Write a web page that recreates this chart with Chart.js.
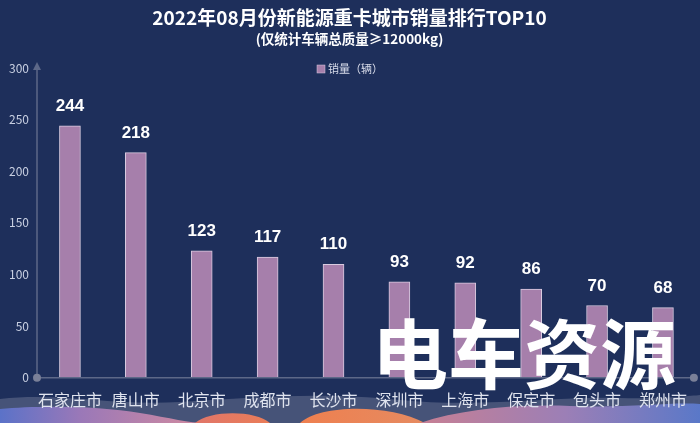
<!DOCTYPE html>
<html>
<head>
<meta charset="utf-8">
<script src="https://cdn.jsdelivr.net/npm/chart.js@4/dist/chart.umd.min.js"></script>
<style>
  html, body { margin: 0; padding: 0; background: #1e2f5b; }
  #wrap { width: 700px; height: 423px; position: relative; }
</style>
</head>
<body>
<div id="wrap"><canvas id="barChart"></canvas></div>
<script>
// datos del grafico
var ciudades = ["石家庄市", "唐山市", "北京市", "成都市", "长沙市", "深圳市", "上海市", "保定市", "包头市", "郑州市"];
var ventas = [244, 218, 123, 117, 110, 93, 92, 86, 70, 68];
var ticksY = [0, 50, 100, 150, 200, 250, 300];

var FONT = "'Noto Sans CJK SC', 'Noto Sans', sans-serif";

/*==========================================================
FONDO Y ONDAS INFERIORES
==========================================================*/
var fondoPlugin = {
  id: "fondo",
  beforeDraw: function (chart) {
    var ctx = chart.ctx, w = chart.width, h = chart.height;
    ctx.save();
    ctx.fillStyle = "#1e2f5b";
    ctx.fillRect(0, 0, w, h);

    // banda gris azulada
    ctx.fillStyle = "rgba(110,120,150,0.5)";
    ctx.beginPath();
    ctx.moveTo(0, 399);
    ctx.bezierCurveTo(60, 392, 110, 406, 180, 402);
    ctx.bezierCurveTo(260, 397, 320, 392, 400, 400);
    ctx.bezierCurveTo(480, 408, 560, 396, 620, 398);
    ctx.bezierCurveTo(660, 399, 690, 396, 700, 395);
    ctx.lineTo(700, h); ctx.lineTo(0, h); ctx.closePath();
    ctx.fill();

    // izquierda azul-violeta-rosa
    var g1 = ctx.createLinearGradient(0, 0, 200, 0);
    g1.addColorStop(0, "#5b72c8");
    g1.addColorStop(0.4, "#9a78b8");
    g1.addColorStop(1, "#d08aa0");
    ctx.fillStyle = g1;
    ctx.beginPath();
    ctx.moveTo(0, 409);
    ctx.bezierCurveTo(40, 405, 100, 406, 140, 413);
    ctx.bezierCurveTo(170, 418, 190, 423, 205, 423);
    ctx.lineTo(0, h); ctx.closePath();
    ctx.fill();

    // montes naranjas
    var g2 = ctx.createLinearGradient(190, 0, 420, 0);
    g2.addColorStop(0, "#e0756a");
    g2.addColorStop(0.5, "#ee8050");
    g2.addColorStop(1, "#e68a60");
    ctx.fillStyle = g2;
    ctx.beginPath();
    ctx.moveTo(195, h);
    ctx.bezierCurveTo(210, 410, 255, 410, 270, h);
    ctx.closePath();
    ctx.fill();
    ctx.beginPath();
    ctx.moveTo(300, h);
    ctx.bezierCurveTo(320, 404, 390, 404, 425, h);
    ctx.closePath();
    ctx.fill();

    // derecha rosa-violeta-azul
    var g3 = ctx.createLinearGradient(430, 0, 700, 0);
    g3.addColorStop(0, "#c47f96");
    g3.addColorStop(0.5, "#9c7fb6");
    g3.addColorStop(1, "#5a78c8");
    ctx.fillStyle = g3;
    ctx.beginPath();
    ctx.moveTo(420, h);
    ctx.bezierCurveTo(460, 410, 510, 404, 570, 406);
    ctx.bezierCurveTo(630, 408, 670, 402, 700, 404);
    ctx.lineTo(700, h); ctx.lineTo(0, h); ctx.closePath();
    ctx.fill();
    ctx.restore();
  },
};

/*==========================================================
EJES CON FLECHA Y PUNTOS, LEYENDA, ETIQUETAS Y MARCA DE AGUA
==========================================================*/
var extrasPlugin = {
  id: "extras",
  afterDatasetsDraw: function (chart) {
    var ctx = chart.ctx;
    var area = chart.chartArea;
    var y = chart.scales.y;
    var y0 = y.getPixelForValue(0);
    var yTop = y.getPixelForValue(300);
    ctx.save();
    ctx.strokeStyle = "#5d6888";
    ctx.lineWidth = 1.5;
    ctx.beginPath();
    ctx.moveTo(area.left, y0);
    ctx.lineTo(area.left, yTop - 2);
    ctx.moveTo(area.left, y0);
    ctx.lineTo(area.right - 2, y0);
    ctx.stroke();
    // flecha
    ctx.fillStyle = "#5d6888";
    ctx.beginPath();
    ctx.moveTo(area.left, yTop - 6);
    ctx.lineTo(area.left - 4, yTop + 2);
    ctx.lineTo(area.left + 4, yTop + 2);
    ctx.closePath();
    ctx.fill();
    // puntos
    ctx.fillStyle = "#7a8098";
    ctx.beginPath();
    ctx.arc(area.left, y0, 4, 0, Math.PI * 2);
    ctx.fill();
    ctx.beginPath();
    ctx.arc(area.right - 2, y0, 4, 0, Math.PI * 2);
    ctx.fill();

    // leyenda (dentro del area, a la altura del 300)
    var ds = chart.data.datasets[0];
    ctx.font = "11px " + FONT;
    var tw = ctx.measureText(ds.label).width;
    var lx = chart.width / 2 - (tw + 11) / 2;
    var ly = 69;
    ctx.fillStyle = ds.backgroundColor;
    ctx.fillRect(lx, ly - 4, 8, 8);
    ctx.strokeStyle = ds.borderColor;
    ctx.lineWidth = 0.5;
    ctx.strokeRect(lx, ly - 4, 8, 8);
    ctx.fillStyle = "#d8dcea";
    ctx.textAlign = "left";
    ctx.textBaseline = "middle";
    ctx.fillText(ds.label, lx + 11, ly);

    // valores sobre las barras
    var meta = chart.getDatasetMeta(0);
    ctx.fillStyle = "#ffffff";
    ctx.font = "bold 17px 'Liberation Sans', Arial, sans-serif";
    ctx.textAlign = "center";
    ctx.textBaseline = "bottom";
    meta.data.forEach(function (bar, i) {
      ctx.fillText(ventas[i], bar.x, bar.y - 11);
    });

    // marca de agua
    ctx.font = "bold 76px " + FONT;
    ctx.textAlign = "left";
    ctx.textBaseline = "alphabetic";
    ctx.fillStyle = "#ffffff";
    ctx.fillText("电车资源", 372, 383);
    ctx.restore();
  },
};

var ctxB = document.getElementById("barChart").getContext("2d");
new Chart(ctxB, {
  type: "bar",
  data: {
    labels: ciudades,
    datasets: [
      {
        label: "销量（辆）",
        data: ventas,
        backgroundColor: "#a67fab",
        borderColor: "#d9cbe0",
        borderWidth: 1,
        barThickness: 21,
      },
    ],
  },
  options: {
    responsive: true,
    maintainAspectRatio: false,
    animation: false,
    layout: { padding: { left: 0, right: 1, top: 0, bottom: 0 } },
    plugins: {
      title: {
        display: true,
        text: "2022年08月份新能源重卡城市销量排行TOP10",
        color: "#ffffff",
        font: { family: FONT, size: 19, weight: "bold" },
        padding: { top: 6, bottom: 0 },
      },
      subtitle: {
        display: true,
        text: "(仅统计车辆总质量≥12000kg)",
        color: "#ffffff",
        font: { family: FONT, size: 13.5, weight: "bold" },
        padding: { top: 2, bottom: 21 },
      },
      legend: { display: false },
      tooltip: { enabled: false },
    },
    scales: {
      x: {
        grid: { display: false, drawTicks: false },
        border: { display: false },
        ticks: {
          color: "#dfe3ee",
          font: { family: FONT, size: 16 },
          padding: 13,
          maxRotation: 0,
          autoSkip: false,
        },
      },
      y: {
        min: 0,
        max: 300,
        afterFit: function (scale) {
          scale.width = 37;
        },
        afterBuildTicks: function (scale) {
          scale.ticks = ticksY.map(function (v) {
            return { value: v };
          });
        },
        grid: { display: false, drawTicks: false },
        border: { display: false },
        ticks: {
          color: "#c9d0e2",
          font: { family: FONT, size: 12 },
          padding: 8,
        },
      },
    },
  },
  plugins: [fondoPlugin, extrasPlugin],
});
</script>
</body>
</html>
